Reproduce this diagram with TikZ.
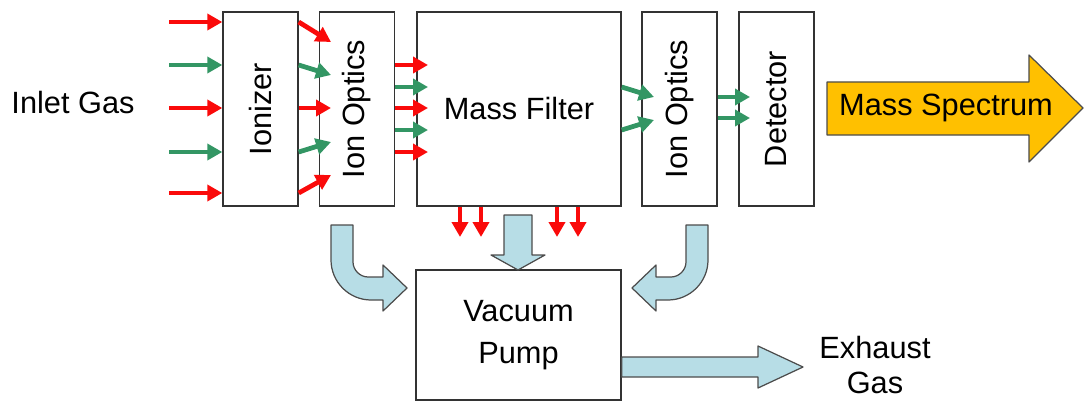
\documentclass[tikz,border=0pt]{standalone}
\usepackage{fontspec}
\setmainfont{Liberation Sans}
\usepackage{xcolor}
\usetikzlibrary{arrows.meta}

\definecolor{ionred}{RGB}{250,10,10}
\definecolor{iongreen}{RGB}{51,150,100}
\definecolor{pumpblue}{RGB}{183,221,230}
\definecolor{specgold}{RGB}{255,192,0}

\tikzset{
    box/.style={draw=black!80, fill=white, line width=0.8pt, minimum width=1.5cm, minimum height=3.88cm, inner sep=0pt},
    flow/.style={line width=0.095cm, -{Triangle[length=0.3cm, width=0.32cm]}},
    fatarrow/.style={draw=black!70, fill=pumpblue, line width=0.7pt, line join=round},
    label/.style={font=\fontsize{17.5}{24}\selectfont, align=center}
}

\newcommand{\bentarrow}{%
    \draw[fatarrow] (331,225) -- (353,225) -- (353,262)
        .. controls (353,270) and (360,277) .. (368,277) -- (383,277)
        -- (383,265) -- (407,288) -- (383,311) -- (383,300) -- (371,300)
        .. controls (349,300) and (331,282) .. (331,260) -- cycle;}

\begin{document}
\begin{tikzpicture}[x=0.02cm, y=-0.02cm]
    \useasboundingbox (0,0) rectangle (1084,402);

    % Boxes
    \node[box] (ionizer) at (260.5,109) {};
    \node[label, rotate=90] at (ionizer.center) {Ionizer};
    \node[box] (optics1) at (357,109) {};
    \node[label, rotate=90] at (optics1.center) {Ion Optics};
    \node[box, minimum width=4.08cm, label] (filter) at (519,109) {Mass Filter};
    \node[box] (optics2) at (679.5,109) {};
    \node[label, rotate=90] at (optics2.center) {Ion Optics};
    \node[box] (detector) at (776.5,109) {};
    \node[label, rotate=90] at (detector.center) {Detector};
    \node[box, minimum width=4.1cm, minimum height=2.6cm, label] (pump) at (518.5,335) {Vacuum\\Pump};

    % Labels
    \node[label] (inlet) at (73,103) {Inlet Gas};
    \node[label, font=\fontsize{17.5}{20}\selectfont] (exhaust) at (875,365) {Exhaust\\Gas};

    % Output arrow
    \draw[draw=black!70, fill=specgold, line width=0.7pt, line join=round]
        (827,82) -- (1029,82) -- (1029,55) -- (1083,108) -- (1029,162) -- (1029,135) -- (827,135) -- cycle;
    \node[label] (spectrum) at (946,108) {Mass Spectrum};

    % Gas and ion flow
    \foreach \y/\c in {22/ionred, 65/iongreen, 108/ionred, 152/iongreen, 193/ionred}
        \draw[flow, \c] (169,\y) -- (ionizer.west |- 0,\y);
    \foreach \a/\b/\c in {22/42/ionred, 65/75/iongreen, 108/108/ionred, 152/142/iongreen, 193/175/ionred}
        \draw[flow, \c] (ionizer.east |- 0,\a) -- (331,\b);
    \foreach \y/\c in {65/ionred, 87/iongreen, 108/ionred, 130/iongreen, 152/ionred}
        \draw[flow, \c] (optics1.east |- 0,\y) -- (428,\y);
    \foreach \a/\b in {87/97, 130/120}
        \draw[flow, iongreen] (filter.east |- 0,\a) -- (654,\b);
    \foreach \y in {97, 118}
        \draw[flow, iongreen] (optics2.east |- 0,\y) -- (750,\y);
    \foreach \x in {460, 481, 557, 578}
        \draw[flow, ionred] (\x,0 |- filter.south) -- (\x,237);

    % Pumping
    \bentarrow
    \begin{scope}[shift={(1039,0)}, xscale=-1]
        \bentarrow
    \end{scope}
    \draw[fatarrow] (504,215) -- (532,215) -- (532,255) -- (545,255) -- (518,270)
        -- (491,255) -- (504,255) -- cycle;
    \draw[fatarrow] (pump.east |- 0,357) -- (758,357) -- (758,346) -- (803,367)
        -- (758,388) -- (758,377) -- (pump.east |- 0,377) -- cycle;

\end{tikzpicture}
\end{document}
